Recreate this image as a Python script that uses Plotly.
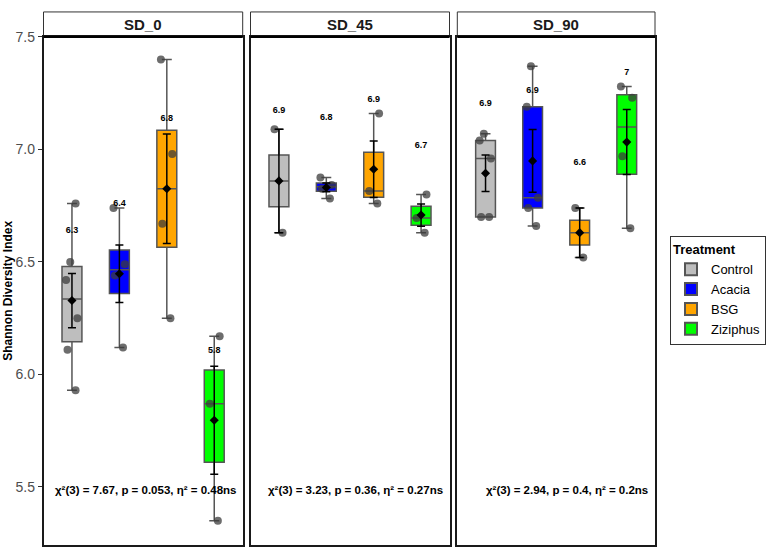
import numpy as np
import plotly.graph_objects as go

treatments = ["Control", "Acacia", "BSG", "Ziziphus"]
depths = ["SD_0", "SD_45", "SD_90"]
box_colors = ["#BEBEBE", "#0000FF", "#FFA500", "#00FF00"]

sd0_control = [6.76, 6.50, 6.42, 6.25, 6.11, 5.93]
sd0_acacia = [6.74, 6.49, 6.44, 6.12]
sd0_bsg = [7.40, 6.98, 6.67, 6.25]
sd0_ziziphus = [6.17, 5.87, 5.35]

sd45_control = [7.09, 6.63]
sd45_acacia = [6.875, 6.842, 6.825, 6.782]
sd45_bsg = [7.16, 6.815, 6.76]
sd45_ziziphus = [6.80, 6.695, 6.63]

sd90_control = [7.07, 7.04, 6.96, 6.70, 6.70]
sd90_acacia = [7.37, 7.19, 6.785, 6.74, 6.66]
sd90_bsg = [6.74, 6.52]
sd90_ziziphus = [7.28, 7.23, 6.97, 6.65]

stats_labels = [
    "χ²(3) = 7.67, p = 0.053, η² = 0.48ns",
    "χ²(3) = 3.23, p = 0.36, η² = 0.27ns",
    "χ²(3) = 2.94, p = 0.4, η² = 0.2ns",
]

groups = {
    "SD_0": [sd0_control, sd0_acacia, sd0_bsg, sd0_ziziphus],
    "SD_45": [sd45_control, sd45_acacia, sd45_bsg, sd45_ziziphus],
    "SD_90": [sd90_control, sd90_acacia, sd90_bsg, sd90_ziziphus],
}

FONT = "Liberation Sans, Arial, sans-serif"
W, H = 767, 549
xdoms = [[43.5 / W, 242.7 / W], [250.5 / W, 449.5 / W], [457.3 / W, 655.0 / W]]
ydom = [1 - 545 / H, 1 - 29.3 / H]
strip_top = 1 - 4 / H
label_offset = 0.31
stats_y = 5.487

fig = go.Figure()
layout = {}
for i, depth in enumerate(depths):
    xa = "x" if i == 0 else f"x{i+1}"
    ya = "y" if i == 0 else f"y{i+1}"
    for j, t in enumerate(treatments):
        vals = np.array(groups[depth][j], dtype=float)
        q1, med, q3 = np.percentile(vals, [25, 50, 75])
        iqr = q3 - q1
        lo = vals[vals >= q1 - 1.5 * iqr].min()
        hi = vals[vals <= q3 + 1.5 * iqr].max()
        mean = vals.mean()
        se = vals.std(ddof=1) / np.sqrt(len(vals))
        fig.add_trace(go.Box(
            x=[t], q1=[q1], median=[med], q3=[q3], lowerfence=[lo], upperfence=[hi],
            fillcolor=box_colors[j], line=dict(color="#555555", width=1.5),
            width=0.42, name=t, legendgroup=t, showlegend=(i == 0),
            boxpoints=False, xaxis=xa, yaxis=ya, hoverinfo="skip"))
        fig.add_trace(go.Box(
            x=[t] * len(vals), y=vals, boxpoints="all", jitter=0.7, pointpos=0,
            fillcolor="rgba(0,0,0,0)", line=dict(width=0, color="rgba(0,0,0,0)"),
            marker=dict(size=8, color="rgba(60,60,60,0.75)", line=dict(width=0)),
            width=0.42, showlegend=False, legendgroup=t, xaxis=xa, yaxis=ya,
            hoverinfo="y"))
        fig.add_trace(go.Scatter(
            x=[t], y=[mean], mode="markers",
            marker=dict(symbol="diamond", size=7, color="black"),
            error_y=dict(type="data", array=[se], color="black", thickness=1.5, width=4),
            showlegend=False, xaxis=xa, yaxis=ya, hoverinfo="y"))
        fig.add_trace(go.Scatter(
            x=[t], y=[mean + label_offset], mode="text",
            text=[f"<b>{round(mean, 1):g}</b>"],
            textfont=dict(size=9, color="black", family=FONT),
            showlegend=False, xaxis=xa, yaxis=ya, hoverinfo="skip"))

    xkey = "xaxis" if i == 0 else f"xaxis{i+1}"
    ykey = "yaxis" if i == 0 else f"yaxis{i+1}"
    layout[xkey] = dict(
        domain=xdoms[i], anchor=ya, type="category",
        categoryorder="array", categoryarray=treatments,
        range=[-0.6, 3.6], showticklabels=False, ticks="",
        showline=True, mirror=True, linecolor="#1a1a1a", linewidth=1.5,
        showgrid=False, zeroline=False)
    yax = dict(
        domain=ydom, anchor=xa, range=[5.242, 7.5],
        showgrid=False, zeroline=False, showline=True, mirror=True,
        linecolor="#1a1a1a", linewidth=1.5)
    if i == 0:
        yax.update(ticks="outside", ticklen=4, tickcolor="#333333", tickwidth=1,
                   tickvals=[5.5, 6.0, 6.5, 7.0, 7.5], tickformat=".1f",
                   tickfont=dict(size=14, color="#4D4D4D", family=FONT))
    else:
        yax.update(showticklabels=False, ticks="")
    layout[ykey] = yax

    # strip
    fig.add_shape(type="rect", xref="paper", yref="paper",
                  x0=xdoms[i][0], x1=xdoms[i][1], y0=ydom[1], y1=strip_top,
                  line=dict(color="#333333", width=1), fillcolor="white", layer="below")
    fig.add_shape(type="line", xref="paper", yref="paper",
                  x0=xdoms[i][0], x1=xdoms[i][1], y0=ydom[1], y1=ydom[1],
                  line=dict(color="black", width=2.2))
    fig.add_annotation(text=f"<b>{depth}</b>", xref="paper", yref="paper",
                       x=(xdoms[i][0] + xdoms[i][1]) / 2, y=(ydom[1] + strip_top) / 2,
                       xanchor="center", yanchor="middle", showarrow=False,
                       font=dict(size=15, color="#1a1a1a", family=FONT))
    fig.add_annotation(text=f"<b>{stats_labels[i]}</b>", xref=f"{xa} domain", yref=ya,
                       x=0.975, y=stats_y, xanchor="right", yanchor="middle",
                       showarrow=False, font=dict(size=11.5, color="black", family=FONT))

fig.add_annotation(text="<b>Shannon Diversity Index</b>", xref="paper", yref="paper",
                   x=8 / W, y=1 - 287 / H, textangle=-90, xanchor="center", yanchor="middle",
                   showarrow=False, font=dict(size=12, color="black", family=FONT))

fig.update_layout(
    width=W, height=H, margin=dict(l=0, r=0, t=0, b=0),
    paper_bgcolor="white", plot_bgcolor="white",
    boxmode="overlay",
    font=dict(family=FONT),
    legend=dict(
        title=dict(text="<b>Treatment</b>", font=dict(size=13, color="black", family=FONT)),
        font=dict(size=13, color="black", family=FONT),
        x=670 / W, xanchor="left", y=1 - 287 / H, yanchor="middle",
        bordercolor="#333333", borderwidth=1, bgcolor="white",
        tracegroupgap=0, itemsizing="constant"),
    **layout,
)

fig.write_html("out.html")
